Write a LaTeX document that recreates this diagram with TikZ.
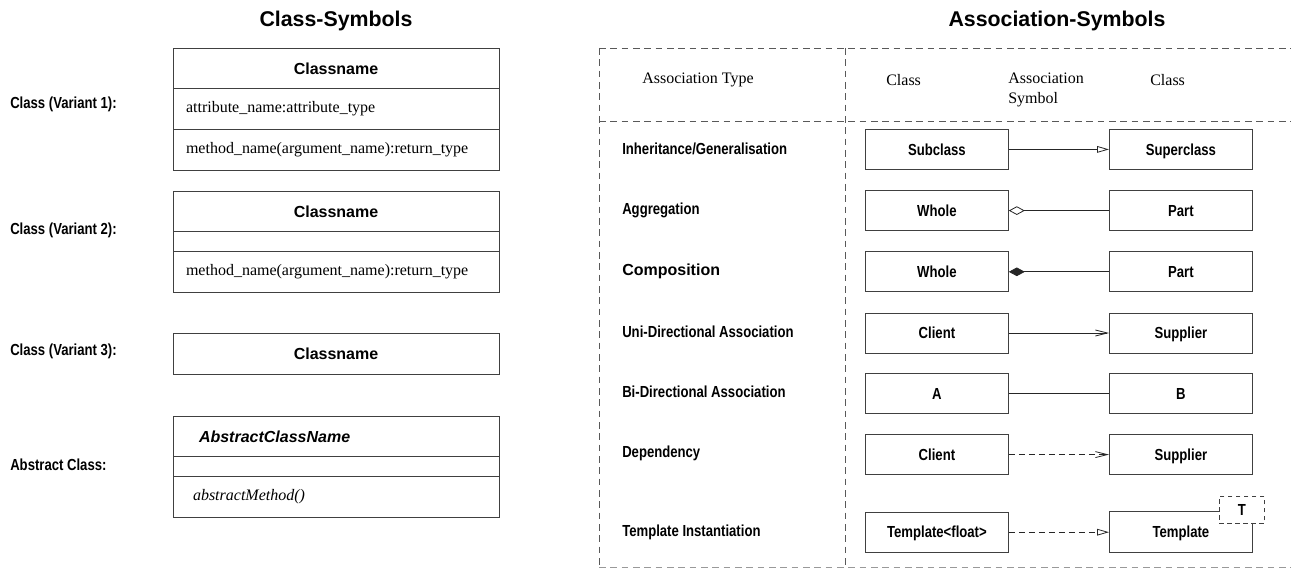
\documentclass[tikz,border=0pt]{standalone}
\usepackage{fontspec}
\setmainfont{Liberation Serif}
\setsansfont{Liberation Sans}
\newfontfamily\narrowsf[FakeStretch=0.82]{Liberation Sans}
\usetikzlibrary{arrows.meta,positioning}

\begin{document}
\begin{tikzpicture}[x = 0.75pt, y = -0.75pt, font = \fontsize{12}{15}\selectfont]
  \tikzset{part/.style = {shape = rectangle, draw = black!75, line width = 0.6pt, outer sep = 0pt, inner sep = 0pt, minimum width = 244.5pt, minimum height = 30.5pt}}
  \tikzset{namepart/.style = {part, font = \fontsize{12}{15}\selectfont\sffamily\bfseries}}
  \tikzset{textpart/.style = {part, align = left, text width = 225pt}}
  \tikzset{emptypart/.style = {part, minimum height = 15pt}}
  \tikzset{label/.style = {anchor = west, inner xsep = 0pt, font = \fontsize{12}{15}\selectfont\narrowsf\bfseries}}
  \tikzset{cls/.style = {shape = rectangle, draw = black!75, line width = 0.6pt, minimum width = 107.25pt, minimum height = 30pt, text height = 8.6pt, text depth = 0pt, font = \fontsize{12}{15}\selectfont\narrowsf\bfseries}}
  \tikzset{title/.style = {font = \fontsize{16}{19}\selectfont\sffamily\bfseries}}
  \tikzset{head/.style = {anchor = west, inner xsep = 0pt, align = left}}
  \tikzset{frame/.style = {black!65, line width = 0.6pt, dash pattern = on 5pt off 3.5pt}}
  \tikzset{assoc/.style = {black!85, line width = 0.6pt}}

  \useasboundingbox (0,0) rectangle (1291,577);

  \node[title] (ClassTitle) at (336,21) {Class-Symbols};
  \node[title] (AssocTitle) at (1057,21) {Association-Symbols};

  % class symbols
  \node[label] (V1Label) at (10,104) {Class (Variant 1):};
  \node[namepart, anchor = north] (V1Name) at (336,48) {Classname};
  \node[textpart, below = 0pt of V1Name] (V1Attr) {attribute\_name:attribute\_type};
  \node[textpart, below = 0pt of V1Attr] (V1Meth) {method\_name(argument\_name):return\_type};

  \node[label] (V2Label) at (10,230) {Class (Variant 2):};
  \node[namepart, below = 15.75pt of V1Meth] (V2Name) {Classname};
  \node[emptypart, below = 0pt of V2Name] (V2Attr) {};
  \node[textpart, below = 0pt of V2Attr] (V2Meth) {method\_name(argument\_name):return\_type};

  \node[label] (V3Label) at (10,351) {Class (Variant 3):};
  \node[namepart, below = 30.75pt of V2Meth] (V3Name) {Classname};

  \node[label] (AbsLabel) at (10,465) {Abstract Class:};
  \node[namepart, align = left, text width = 205.5pt, font = \fontsize{12}{15}\selectfont\sffamily\bfseries\itshape, below = 31.5pt of V3Name] (AbsName) {AbstractClassName};
  \node[emptypart, below = 0pt of AbsName] (AbsAttr) {};
  \node[textpart, text width = 214.5pt, font = \fontsize{12}{15}\selectfont\itshape, below = 0pt of AbsAttr] (AbsMeth) {abstractMethod()};

  % association table
  \draw[frame] (599,48) -- (1291,48);
  \draw[frame] (599,121) -- (1291,121);
  \draw[frame, black!40] (599,567) -- (1291,567);
  \draw[frame] (599,48) -- (599,567);
  \draw[frame] (845,48) -- (845,567);

  \node[head] (HType) at (642,80) {Association Type};
  \node[head] (HLeft) at (886,80) {Class};
  \node[head] (HSymbol) at (1008,90) {Association\\Symbol};
  \node[head] (HRight) at (1150,80) {Class};

  \node[label] (LInh) at (622,149) {Inheritance/Generalisation};
  \node[label] (LAgg) at (622,210) {Aggregation};
  \node[label, font = \fontsize{12}{15}\selectfont\sffamily\bfseries] (LComp) at (622,271) {Composition};
  \node[label] (LUni) at (622,332) {Uni-Directional Association};
  \node[label] (LBi) at (622,392) {Bi-Directional Association};
  \node[label] (LDep) at (622,453) {Dependency};
  \node[label] (LTmpl) at (622,532) {Template Instantiation};

  \node[cls, anchor = north west] (Sub) at (865,129) {Subclass};
  \node[cls, anchor = north west] (Super) at (1109,129) {Superclass};
  \node[cls, below = 15.3pt of Sub] (AggWhole) {Whole};
  \node[cls, below = 15.3pt of Super] (AggPart) {Part};
  \node[cls, below = 15.3pt of AggWhole] (CompWhole) {Whole};
  \node[cls, below = 15.3pt of AggPart] (CompPart) {Part};
  \node[cls, below = 15.3pt of CompWhole] (UniClient) {Client};
  \node[cls, below = 15.3pt of CompPart] (UniSupplier) {Supplier};
  \node[cls, below = 14.7pt of UniClient] (BiA) {A};
  \node[cls, below = 14.7pt of UniSupplier] (BiB) {B};
  \node[cls, below = 15.3pt of BiA] (DepClient) {Client};
  \node[cls, below = 15.3pt of BiB] (DepSupplier) {Supplier};
  \node[cls, below = 27.6pt of DepClient] (TmplFloat) {Template<float>};
  \node[cls, draw = none, below = 27.6pt of DepSupplier] (Tmpl) {Template};
  \node[cls, dashed, dash pattern = on 3.5pt off 2.5pt, minimum width = 33.75pt, minimum height = 20.25pt, anchor = north west] (TParam) at (1219,496) {T};
  \draw[black!75, line width = 0.6pt] (TParam.west |- Tmpl.north) -- (Tmpl.north west) -- (Tmpl.south west) -- (Tmpl.south east) -- (Tmpl.east |- TParam.south);

  \draw[assoc, -{Triangle[open, length = 9pt, width = 5pt]}] (Sub) -- (Super);
  \draw[assoc, -{Diamond[open, length = 12pt, width = 6.5pt]}] (AggPart) -- (AggWhole);
  \draw[assoc, -{Diamond[length = 12pt, width = 6.5pt]}] (CompPart) -- (CompWhole);
  \draw[assoc, -{Straight Barb[length = 9pt, width = 4.5pt]}] (UniClient) -- (UniSupplier);
  \draw[assoc] (BiA) -- (BiB);
  \draw[assoc, dash pattern = on 4.5pt off 3pt, -{Straight Barb[length = 9pt, width = 4.5pt]}] (DepClient) -- (DepSupplier);
  \draw[assoc, dash pattern = on 4.5pt off 3pt, -{Triangle[open, length = 9pt, width = 5pt]}] (TmplFloat) -- (Tmpl);

\end{tikzpicture}
\end{document}
